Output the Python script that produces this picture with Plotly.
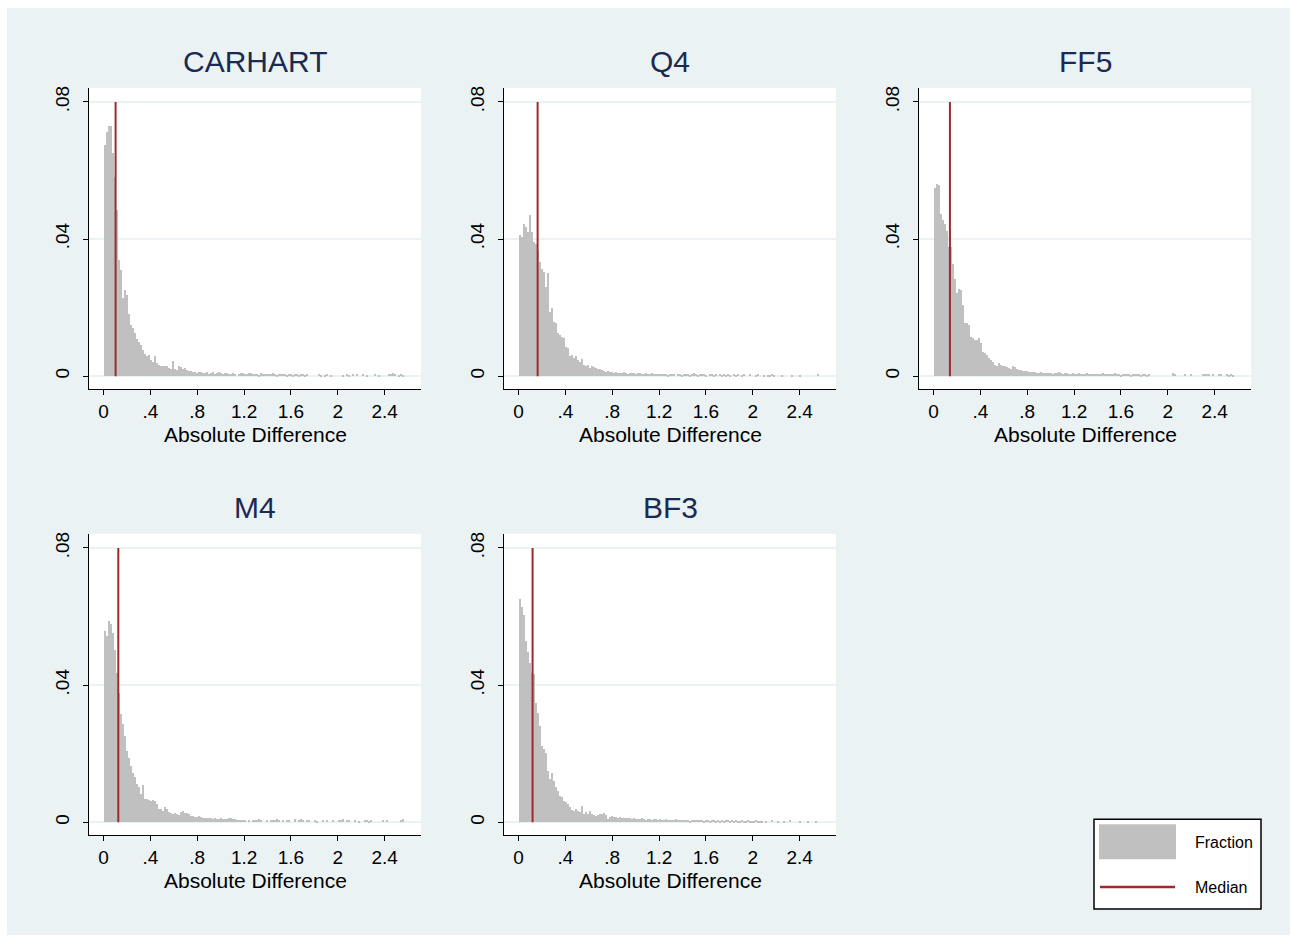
import plotly.graph_objects as go

# ---------------- data ----------------
BIN_WIDTH = 0.0171
panel_names = ["CARHART", "Q4", "FF5", "M4", "BF3"]

carhart = [
    0.0676, 0.0713, 0.0730, 0.0730, 0.0650, 0.0582, 0.0485, 0.0339, 0.0310, 0.0228,
    0.0252, 0.0236, 0.0182, 0.0150, 0.0141, 0.0126, 0.0110, 0.0100, 0.0090, 0.0078,
    0.0066, 0.0060, 0.0062, 0.0048, 0.0042, 0.0058, 0.0040, 0.0034, 0.0030, 0.0031,
    0.0029, 0.0030, 0.0024, 0.0020, 0.0044, 0.0022, 0.0018, 0.0030, 0.0026, 0.0022,
    0.0024, 0.0018, 0.0016, 0.0015, 0.0013, 0.0012, 0.0010, 0.0014, 0.0012, 0.0009,
    0.0011, 0.0012, 0.0008, 0.0010, 0.0012, 0.0007, 0.0009, 0.0012, 0.0010, 0.0007,
    0.0009, 0.0010, 0.0008, 0.0006, 0.0009, 0.0007, 0.0000, 0.0008, 0.0010, 0.0009,
    0.0007, 0.0008, 0.0010, 0.0009, 0.0006, 0.0008, 0.0007, 0.0005, 0.0009, 0.0008,
    0.0007, 0.0006, 0.0008, 0.0007, 0.0009, 0.0006, 0.0005, 0.0007, 0.0008, 0.0006,
    0.0007, 0.0005, 0.0006, 0.0008, 0.0005, 0.0007, 0.0006, 0.0005, 0.0007, 0.0006,
    0.0005, 0.0006, 0.0000, 0.0000, 0.0000, 0.0000, 0.0000, 0.0006, 0.0005, 0.0000,
    0.0005, 0.0006, 0.0000, 0.0005, 0.0000, 0.0000, 0.0000, 0.0000, 0.0000, 0.0005,
    0.0000, 0.0006, 0.0005, 0.0000, 0.0006, 0.0000, 0.0007, 0.0000, 0.0000, 0.0006,
    0.0000, 0.0005, 0.0000, 0.0000, 0.0000, 0.0006, 0.0000, 0.0005, 0.0000, 0.0000,
    0.0000, 0.0000, 0.0006, 0.0008, 0.0010, 0.0007, 0.0000, 0.0005, 0.0006, 0.0005,
]

q4 = [
    0.0411, 0.0406, 0.0444, 0.0435, 0.0420, 0.0470, 0.0420, 0.0391, 0.0386, 0.0367,
    0.0333, 0.0314, 0.0304, 0.0261, 0.0300, 0.0188, 0.0200, 0.0159, 0.0155, 0.0126,
    0.0121, 0.0116, 0.0111, 0.0087, 0.0082, 0.0058, 0.0063, 0.0053, 0.0058, 0.0048,
    0.0043, 0.0050, 0.0034, 0.0029, 0.0032, 0.0024, 0.0030, 0.0028, 0.0024, 0.0020,
    0.0022, 0.0018, 0.0016, 0.0014, 0.0017, 0.0012, 0.0013, 0.0011, 0.0014, 0.0010,
    0.0011, 0.0009, 0.0012, 0.0010, 0.0008, 0.0011, 0.0009, 0.0010, 0.0007, 0.0009,
    0.0010, 0.0008, 0.0007, 0.0009, 0.0008, 0.0006, 0.0009, 0.0007, 0.0008, 0.0006,
    0.0008, 0.0007, 0.0006, 0.0008, 0.0005, 0.0007, 0.0006, 0.0007, 0.0000, 0.0006,
    0.0007, 0.0005, 0.0006, 0.0008, 0.0007, 0.0005, 0.0006, 0.0009, 0.0006, 0.0005,
    0.0007, 0.0008, 0.0006, 0.0005, 0.0000, 0.0007, 0.0006, 0.0005, 0.0006, 0.0000,
    0.0006, 0.0005, 0.0007, 0.0005, 0.0006, 0.0005, 0.0000, 0.0007, 0.0005, 0.0006,
    0.0000, 0.0005, 0.0007, 0.0000, 0.0000, 0.0006, 0.0000, 0.0000, 0.0005, 0.0006,
    0.0000, 0.0000, 0.0005, 0.0000, 0.0005, 0.0005, 0.0006, 0.0005, 0.0000, 0.0000,
    0.0000, 0.0005, 0.0000, 0.0000, 0.0000, 0.0000, 0.0005, 0.0000, 0.0000, 0.0000,
    0.0005, 0.0000, 0.0000, 0.0000, 0.0000, 0.0000, 0.0000, 0.0000, 0.0000, 0.0006,
]

ff5 = [
    0.0548, 0.0560, 0.0557, 0.0473, 0.0457, 0.0444, 0.0425, 0.0377, 0.0377, 0.0328,
    0.0285, 0.0242, 0.0256, 0.0251, 0.0208, 0.0155, 0.0155, 0.0150, 0.0116, 0.0111,
    0.0106, 0.0106, 0.0111, 0.0097, 0.0072, 0.0068, 0.0063, 0.0053, 0.0048, 0.0043,
    0.0034, 0.0029, 0.0039, 0.0032, 0.0029, 0.0031, 0.0026, 0.0024, 0.0022, 0.0030,
    0.0026, 0.0020, 0.0019, 0.0019, 0.0017, 0.0015, 0.0016, 0.0013, 0.0012, 0.0014,
    0.0012, 0.0010, 0.0011, 0.0013, 0.0010, 0.0009, 0.0011, 0.0009, 0.0010, 0.0008,
    0.0010, 0.0011, 0.0013, 0.0009, 0.0008, 0.0010, 0.0009, 0.0008, 0.0007, 0.0009,
    0.0008, 0.0007, 0.0009, 0.0006, 0.0008, 0.0007, 0.0009, 0.0006, 0.0008, 0.0007,
    0.0006, 0.0008, 0.0007, 0.0006, 0.0009, 0.0007, 0.0006, 0.0008, 0.0006, 0.0007,
    0.0009, 0.0007, 0.0006, 0.0005, 0.0007, 0.0008, 0.0006, 0.0007, 0.0005, 0.0006,
    0.0008, 0.0006, 0.0007, 0.0005, 0.0006, 0.0007, 0.0005, 0.0006, 0.0000, 0.0000,
    0.0000, 0.0000, 0.0000, 0.0000, 0.0000, 0.0000, 0.0000, 0.0000, 0.0000, 0.0009,
    0.0008, 0.0000, 0.0000, 0.0000, 0.0000, 0.0006, 0.0000, 0.0000, 0.0006, 0.0000,
    0.0000, 0.0000, 0.0000, 0.0000, 0.0006, 0.0007, 0.0008, 0.0006, 0.0000, 0.0007,
    0.0000, 0.0000, 0.0008, 0.0006, 0.0000, 0.0000, 0.0006, 0.0005, 0.0006, 0.0005,
]

m4 = [
    0.0558, 0.0543, 0.0587, 0.0579, 0.0553, 0.0504, 0.0436, 0.0378, 0.0315, 0.0286,
    0.0252, 0.0208, 0.0189, 0.0165, 0.0145, 0.0131, 0.0112, 0.0102, 0.0082, 0.0110,
    0.0068, 0.0068, 0.0066, 0.0063, 0.0066, 0.0063, 0.0053, 0.0039, 0.0039, 0.0034,
    0.0044, 0.0039, 0.0029, 0.0027, 0.0024, 0.0026, 0.0024, 0.0022, 0.0030, 0.0032,
    0.0026, 0.0028, 0.0024, 0.0019, 0.0018, 0.0017, 0.0016, 0.0018, 0.0015, 0.0014,
    0.0013, 0.0014, 0.0012, 0.0013, 0.0011, 0.0012, 0.0010, 0.0011, 0.0012, 0.0010,
    0.0011, 0.0010, 0.0012, 0.0013, 0.0011, 0.0009, 0.0008, 0.0007, 0.0008, 0.0006,
    0.0007, 0.0000, 0.0007, 0.0000, 0.0006, 0.0008, 0.0007, 0.0009, 0.0008, 0.0000,
    0.0000, 0.0006, 0.0000, 0.0007, 0.0008, 0.0006, 0.0009, 0.0007, 0.0000, 0.0006,
    0.0000, 0.0007, 0.0008, 0.0000, 0.0000, 0.0009, 0.0000, 0.0008, 0.0010, 0.0006,
    0.0000, 0.0007, 0.0008, 0.0000, 0.0000, 0.0006, 0.0005, 0.0000, 0.0000, 0.0007,
    0.0000, 0.0006, 0.0000, 0.0000, 0.0006, 0.0000, 0.0000, 0.0007, 0.0008, 0.0009,
    0.0000, 0.0006, 0.0007, 0.0000, 0.0000, 0.0006, 0.0000, 0.0005, 0.0000, 0.0000,
    0.0006, 0.0006, 0.0005, 0.0006, 0.0000, 0.0000, 0.0000, 0.0000, 0.0000, 0.0007,
    0.0000, 0.0006, 0.0000, 0.0000, 0.0000, 0.0000, 0.0000, 0.0000, 0.0006, 0.0010,
]

bf3 = [
    0.0652, 0.0628, 0.0606, 0.0529, 0.0497, 0.0466, 0.0436, 0.0432, 0.0349, 0.0320,
    0.0281, 0.0223, 0.0213, 0.0201, 0.0150, 0.0126, 0.0143, 0.0121, 0.0102, 0.0092,
    0.0078, 0.0075, 0.0063, 0.0058, 0.0053, 0.0044, 0.0036, 0.0034, 0.0039, 0.0034,
    0.0029, 0.0048, 0.0024, 0.0029, 0.0024, 0.0032, 0.0024, 0.0021, 0.0019, 0.0021,
    0.0023, 0.0025, 0.0028, 0.0022, 0.0010, 0.0016, 0.0019, 0.0017, 0.0015, 0.0014,
    0.0016, 0.0014, 0.0013, 0.0012, 0.0013, 0.0012, 0.0011, 0.0012, 0.0010, 0.0011,
    0.0009, 0.0012, 0.0010, 0.0008, 0.0011, 0.0009, 0.0008, 0.0010, 0.0009, 0.0007,
    0.0009, 0.0008, 0.0007, 0.0009, 0.0008, 0.0006, 0.0008, 0.0007, 0.0009, 0.0006,
    0.0008, 0.0007, 0.0006, 0.0008, 0.0007, 0.0005, 0.0007, 0.0006, 0.0008, 0.0006,
    0.0007, 0.0006, 0.0005, 0.0007, 0.0006, 0.0005, 0.0006, 0.0007, 0.0005, 0.0006,
    0.0005, 0.0006, 0.0005, 0.0007, 0.0006, 0.0005, 0.0006, 0.0005, 0.0006, 0.0005,
    0.0005, 0.0006, 0.0005, 0.0004, 0.0006, 0.0005, 0.0004, 0.0005, 0.0006, 0.0004,
    0.0005, 0.0004, 0.0000, 0.0005, 0.0000, 0.0000, 0.0006, 0.0000, 0.0000, 0.0005,
    0.0000, 0.0000, 0.0005, 0.0000, 0.0000, 0.0006, 0.0000, 0.0000, 0.0000, 0.0000,
    0.0005, 0.0000, 0.0000, 0.0000, 0.0005, 0.0000, 0.0000, 0.0000, 0.0005, 0.0000,
]

fractions = [carhart, q4, ff5, m4, bf3]
medians = [0.103, 0.163, 0.140, 0.126, 0.120]

x_tick_vals = [0, 0.4, 0.8, 1.2, 1.6, 2.0, 2.4]
x_tick_text = ["0", ".4", ".8", "1.2", "1.6", "2", "2.4"]
y_tick_vals = [0, 0.04, 0.08]
y_tick_text = ["0", ".04", ".08"]
x_title = "Absolute Difference"

# ---------------- layout geometry (pixels) ----------------
W, H = 1292, 936
boxes = [(89, 86, 421, 388), (504, 86, 836, 388), (919, 86, 1251, 388),
         (89, 533, 421, 835), (504, 533, 836, 835)]
BG = "#EAF2F3"
BAR = "#C0C0C0"
RED = "#9E2A2F"
NAVY = "#1B2A50"
FONT = "Liberation Sans, Arial, sans-serif"


def px(x):
    return x / W


def py(y):
    return 1 - y / H


fig = go.Figure()
shapes = [dict(type="rect", xref="paper", yref="paper", x0=px(7), x1=px(1290),
               y0=py(935), y1=py(6), fillcolor=BG, line=dict(width=0), layer="below")]
annotations = []

for k, (name, vals, med, box) in enumerate(zip(panel_names, fractions, medians, boxes), start=1):
    sx = "" if k == 1 else str(k)
    centers = [BIN_WIDTH * (i + 0.5) for i in range(len(vals))]
    fig.add_trace(go.Bar(x=centers, y=vals, width=BIN_WIDTH, marker=dict(color=BAR, line=dict(width=0)),
                         xaxis="x" + sx, yaxis="y" + sx, showlegend=False, hoverinfo="skip"))
    fig.add_trace(go.Scatter(x=[med, med], y=[0, 0.08], mode="lines", line=dict(color=RED, width=2),
                             xaxis="x" + sx, yaxis="y" + sx, showlegend=False, hoverinfo="skip"))
    x0, y0, x1, y1 = box
    shapes.append(dict(type="rect", xref="paper", yref="paper", x0=px(x0), x1=px(x1),
                       y0=py(y1), y1=py(y0), fillcolor="white", line=dict(width=0), layer="below"))
    fig.layout["xaxis" + sx] = dict(
        domain=[px(x0), px(x1)], anchor="y" + sx, range=[-0.124, 2.71],
        tickmode="array", tickvals=x_tick_vals, ticktext=x_tick_text,
        ticks="outside", ticklen=5, tickwidth=1, tickcolor="black",
        showline=True, linecolor="black", linewidth=1, showgrid=False, zeroline=False,
        tickfont=dict(family=FONT, size=19, color="black"), fixedrange=True)
    fig.layout["yaxis" + sx] = dict(
        domain=[py(y1), py(y0)], anchor="x" + sx, range=[-0.0038, 0.0841],
        tickmode="array", tickvals=y_tick_vals, ticktext=y_tick_text, tickangle=-90,
        ticks="outside", ticklen=5, tickwidth=1, tickcolor="black", ticklabelstandoff=6,
        showline=True, linecolor="black", linewidth=1, showgrid=True,
        gridcolor=BG, gridwidth=1.5, zeroline=False,
        tickfont=dict(family=FONT, size=19, color="black"), fixedrange=True)
    cx = (x0 + x1) / 2
    annotations.append(dict(text=name, xref="paper", yref="paper", x=px(cx), y=py(y0 - 26),
                            xanchor="center", yanchor="middle", showarrow=False,
                            font=dict(family=FONT, size=30, color=NAVY)))
    annotations.append(dict(text=x_title, xref="paper", yref="paper", x=px(cx), y=py(y1 + 45),
                            xanchor="center", yanchor="middle", showarrow=False,
                            font=dict(family=FONT, size=21, color="black")))

# legend box
shapes.append(dict(type="rect", xref="paper", yref="paper", x0=px(1094), x1=px(1261),
                   y0=py(909), y1=py(819), fillcolor="white", line=dict(color="black", width=1.5)))
shapes.append(dict(type="rect", xref="paper", yref="paper", x0=px(1099), x1=px(1176),
                   y0=py(859), y1=py(824), fillcolor=BAR, line=dict(width=0)))
shapes.append(dict(type="line", xref="paper", yref="paper", x0=px(1100), x1=px(1175),
                   y0=py(887), y1=py(887), line=dict(color=RED, width=2.5)))
annotations.append(dict(text="Fraction", xref="paper", yref="paper", x=px(1193), y=py(842),
                        xanchor="left", yanchor="middle", showarrow=False,
                        font=dict(family=FONT, size=16, color="black")))
annotations.append(dict(text="Median", xref="paper", yref="paper", x=px(1193), y=py(887),
                        xanchor="left", yanchor="middle", showarrow=False,
                        font=dict(family=FONT, size=16, color="black")))

fig.update_layout(width=W, height=H, margin=dict(l=0, r=0, t=0, b=0),
                  paper_bgcolor="white", plot_bgcolor="rgba(0,0,0,0)",
                  bargap=0, barmode="overlay", shapes=shapes, annotations=annotations,
                  font=dict(family=FONT))

fig.write_html("out.html", config={"displayModeBar": False},
               post_script="document.body.style.margin='0';document.body.style.overflow='hidden';")
